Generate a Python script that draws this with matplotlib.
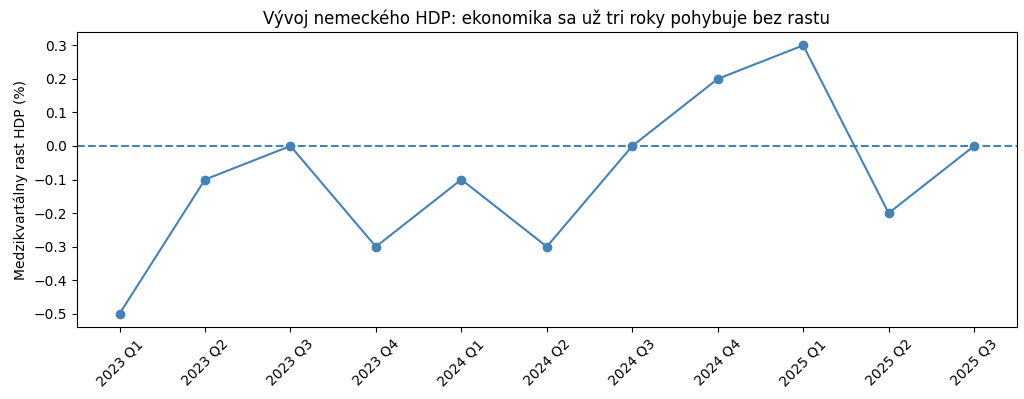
import matplotlib
matplotlib.use('Agg')
from matplotlib import pyplot as plt

# Quarterly GDP growth, Germany.
quarters = ['2023 Q1', '2023 Q2', '2023 Q3', '2023 Q4', '2024 Q1', '2024 Q2',
            '2024 Q3', '2024 Q4', '2025 Q1', '2025 Q2', '2025 Q3']
growth = [-0.5, -0.1, 0.0, -0.3, -0.1, -0.3, 0.0, 0.2, 0.3, -0.2, 0.0]

fig = plt.figure(figsize=(10.24, 3.99), dpi=100)
ax = fig.add_axes([0.075, 0.18, 0.918, 0.74])
ax.plot(quarters, growth, marker='o', color='steelblue')
ax.axhline(0, color='steelblue', linestyle='--')

ax.set_title('Vývoj nemeckého HDP: ekonomika sa už tri roky pohybuje bez rastu')
ax.set_ylabel('Medzikvartálny rast HDP (%)')
plt.setp(ax.get_xticklabels(), rotation=45)

fig.savefig('out.png', dpi=100)
